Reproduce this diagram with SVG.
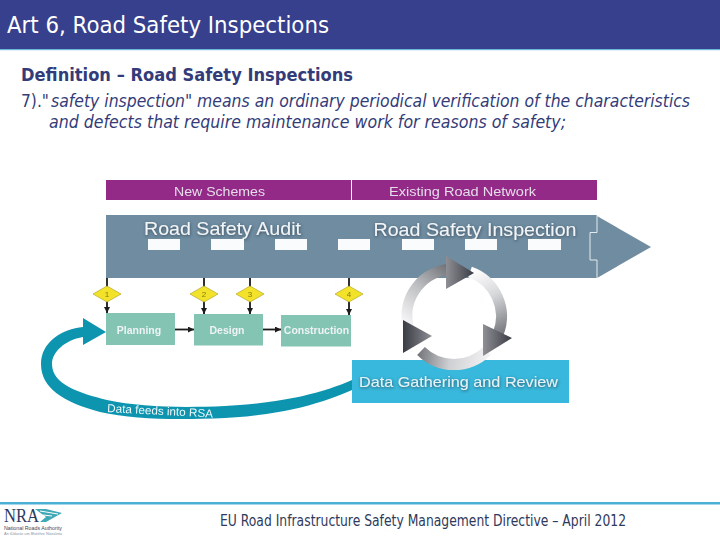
<svg xmlns="http://www.w3.org/2000/svg" width="720" height="540" viewBox="0 0 720 540">
<style>
.t{font-family:"DejaVu Sans",Verdana,sans-serif}
.d{font-family:"Liberation Sans",Arial,sans-serif}
.b{fill:#333c78}
.lab{fill:#eef3f5;font-weight:bold;font-size:10.5px;text-anchor:middle}
.num{fill:#8a7a10;font-size:8px;text-anchor:middle}
.box{fill:#84c4b3}
.dash{fill:#fff;opacity:.97}
.dia{fill:#f2e32c;stroke:#b8a72a;stroke-width:.7}
.big{fill:#f2f5f7;font-size:19px;filter:url(#sh)}
.pur{fill:#e6dcea;font-size:13.5px}
.link{stroke:#1a1a1a;stroke-width:1.8;fill:none}
.ring{fill:none;stroke-width:11}
</style>
<defs>
<filter id="sh" x="-10%" y="-40%" width="120%" height="200%"><feDropShadow dx="0.5" dy="1" stdDeviation="1.5" flood-color="#2c3a48" flood-opacity=".8"/></filter>
<filter id="soft" x="-5%" y="-5%" width="110%" height="110%"><feGaussianBlur stdDeviation=".35"/></filter>
<marker id="ah" markerUnits="userSpaceOnUse" markerWidth="7" markerHeight="6" refX="6" refY="3" orient="auto"><path d="M0 0L6 3L0 6z" fill="#1a1a1a"/></marker>
<linearGradient id="g1" gradientUnits="userSpaceOnUse" x1="408" y1="325" x2="455" y2="268"><stop offset="0" stop-color="#f6f6f7"/><stop offset=".5" stop-color="#bdbec1"/><stop offset="1" stop-color="#6a6b70"/></linearGradient>
<linearGradient id="g2" gradientUnits="userSpaceOnUse" x1="470" y1="272" x2="500" y2="335"><stop offset="0" stop-color="#fff"/><stop offset=".45" stop-color="#d6d7da"/><stop offset="1" stop-color="#77787d"/></linearGradient>
<linearGradient id="g3" gradientUnits="userSpaceOnUse" x1="490" y1="355" x2="420" y2="345"><stop offset="0" stop-color="#f4f4f5"/><stop offset=".55" stop-color="#cfd0d3"/><stop offset="1" stop-color="#77787d"/></linearGradient>
<linearGradient id="h1" gradientUnits="userSpaceOnUse" x1="446" y1="272" x2="474" y2="272"><stop offset="0" stop-color="#8f9095"/><stop offset="1" stop-color="#3a3b44"/></linearGradient>
<linearGradient id="h2" gradientUnits="userSpaceOnUse" x1="483" y1="340" x2="512" y2="340"><stop offset="0" stop-color="#8f9095"/><stop offset="1" stop-color="#3a3b44"/></linearGradient>
<linearGradient id="h3" gradientUnits="userSpaceOnUse" x1="403" y1="336" x2="432" y2="336"><stop offset="0" stop-color="#3a3b44"/><stop offset="1" stop-color="#8f9095"/></linearGradient>
</defs>
<rect width="720" height="540" fill="#fff"/>
<g id="header">
<rect width="720" height="49" fill="#36408c"/>
<rect y="49" width="720" height="1.2" fill="#6ab7d8"/>
<text class="t" x="7" y="33" font-size="23" fill="#fff" textLength="322" lengthAdjust="spacingAndGlyphs">Art 6, Road Safety Inspections</text>
</g>
<g id="body-text">
<text class="t b" x="21" y="81" font-size="17.500" font-weight="bold" textLength="332" lengthAdjust="spacingAndGlyphs">Definition – Road Safety Inspections</text>
<text class="t b" x="21" y="107" font-size="18" textLength="28" lengthAdjust="spacingAndGlyphs">7)."</text>
<text class="t b" x="51" y="107" font-size="18" font-style="italic" textLength="639" lengthAdjust="spacingAndGlyphs">safety inspection" means an ordinary periodical verification of the characteristics</text>
<text class="t b" x="49" y="128" font-size="18" font-style="italic" textLength="517" lengthAdjust="spacingAndGlyphs">and defects that require maintenance work for reasons of safety;</text>
</g>
<g id="diagram" filter="url(#soft)">
<g id="phase-bar">
<rect x="106" y="180" width="245" height="20" fill="#932a87"/>
<rect x="352" y="180" width="245" height="20" fill="#932a87"/>
<text class="d pur" x="174" y="195.500" textLength="91" lengthAdjust="spacingAndGlyphs">New Schemes</text>
<text class="d pur" x="389" y="195.500" textLength="147" lengthAdjust="spacingAndGlyphs">Existing Road Network</text>
</g>
<g id="road-bar">
<rect x="106" y="215" width="491" height="63" fill="#6f8ca1"/>
<path d="M597 216L651 247L597 278z" fill="#6f8ca1"/>
<path d="M597 215V232.500H590V260H597V278" fill="none" stroke="#e4ebef" stroke-width="1"/>
<text class="d big" x="144" y="235" textLength="157" lengthAdjust="spacingAndGlyphs">Road Safety Audit</text>
<text class="d big" x="373.500" y="235.500" textLength="203" lengthAdjust="spacingAndGlyphs">Road Safety Inspection</text>
<rect class="dash" x="148" y="239" width="32" height="11"/>
<rect class="dash" x="211" y="239" width="33" height="11"/>
<rect class="dash" x="275" y="239" width="32" height="11"/>
<rect class="dash" x="338" y="239" width="32" height="11"/>
<rect class="dash" x="402" y="239" width="32" height="11"/>
<rect class="dash" x="465" y="239" width="32" height="11"/>
<rect class="dash" x="528" y="239" width="33" height="11"/>
</g>
<g id="connectors">
<path class="link" d="M107 278V313" marker-end="url(#ah)"/>
<path class="link" d="M204 278V314" marker-end="url(#ah)"/>
<path class="link" d="M250 278V314" marker-end="url(#ah)"/>
<path class="link" d="M349 278V315" marker-end="url(#ah)"/>
<path class="link" d="M175 329.500H194" marker-end="url(#ah)"/>
<path class="link" d="M263 329.500H281" marker-end="url(#ah)"/>
<path d="M83 327C62 329 41 342 41 364C41 388 63 402 100 412C135 420 180 420 225 418C285 415 325 402 352 390V380C325 392 285 403 225 406C180 408 140 407 107 400C80 393 52 385 52 364C52 352 65 340 83 337V345L106 332L83 318z" fill="#0f95b0"/>
</g>
<g id="step-1"><path class="dia" d="M93 294L107 286L121 294L107 302z"/><text class="d num" x="107" y="297">1</text></g>
<g id="step-2"><path class="dia" d="M190 294L204 286L218 294L204 302z"/><text class="d num" x="204" y="297">2</text></g>
<g id="step-3"><path class="dia" d="M236 294L250 286L264 294L250 302z"/><text class="d num" x="250" y="297">3</text></g>
<g id="step-4"><path class="dia" d="M335 294L349 286L363 294L349 302z"/><text class="d num" x="349" y="297">4</text></g>
<g id="planning"><rect class="box" x="106" y="313" width="69" height="32"/><text class="d lab" x="139" y="334">Planning</text></g>
<g id="design"><rect class="box" x="194" y="314" width="69" height="31.500"/><text class="d lab" x="227" y="334">Design</text></g>
<g id="construction"><rect class="box" x="281" y="315" width="70" height="31.500"/><text class="d lab" x="316.500" y="334">Construction</text></g>
<g id="data-gathering">
<rect x="352" y="360" width="217" height="43" fill="#38b8dc"/>
<text class="d" x="359" y="387" font-size="15" fill="#e6f2f6" filter="url(#sh)" textLength="199" lengthAdjust="spacingAndGlyphs">Data Gathering and Review</text>
</g>
<text class="d" transform="translate(107 412) rotate(3)" font-size="11.500" fill="#eef7fa" textLength="106" lengthAdjust="spacingAndGlyphs">Data feeds into RSA</text>
<g id="cycle">
<path class="ring" stroke="url(#g3)" d="M487 351A47 47 0 0 1 421 351"/>
<path class="ring" stroke="url(#g1)" d="M408 326A47 47 0 0 1 452 269"/>
<path class="ring" stroke="url(#g2)" d="M470 272A47 47 0 0 1 498 334"/>
<path d="M446 256L474 273L446 289z" fill="url(#h1)"/>
<path d="M483 324L512 338L483 356z" fill="url(#h2)"/>
<path d="M403 320L432 336L403 353z" fill="url(#h3)"/>
</g>
</g>
<g id="footer">
<rect y="502" width="720" height="2.500" fill="#4bb0d4"/>
<text class="t" x="220" y="526" font-size="15" fill="#2f3a5c" textLength="406" lengthAdjust="spacingAndGlyphs">EU Road Infrastructure Safety Management Directive – April 2012</text>
</g>
<g id="logo">
<text x="4" y="522" font-family="Liberation Serif,serif" font-size="19" fill="#2c3a5e" textLength="35" lengthAdjust="spacingAndGlyphs">NRA</text>
<path d="M35 509H46L62 513L46 522H40L46 517z" fill="#3fa9b8"/>
<path d="M40 511L58 514M43 515L52 516" stroke="#fff" stroke-width="1" fill="none"/>
<text class="d" x="4" y="530" font-size="6" fill="#3a4460" textLength="58" lengthAdjust="spacingAndGlyphs">National Roads Authority</text>
<text class="d" x="4" y="535" font-size="4" fill="#8a93a5" textLength="58" lengthAdjust="spacingAndGlyphs">An tÚdarás um Bhóithre Náisiúnta</text>
</g>
</svg>
